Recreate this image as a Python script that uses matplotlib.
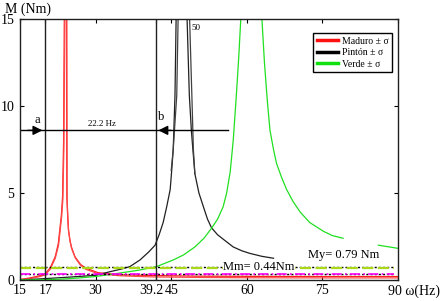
import matplotlib
matplotlib.use("Agg")
import matplotlib.pyplot as plt
import matplotlib.transforms as mtrans
from matplotlib.lines import Line2D

plt.rcParams['font.family'] = ['Liberation Serif', 'DejaVu Serif']

# --- data ---
red_a_hz = [15, 17, 19, 20, 21, 22, 22.6, 22.9, 23.2, 23.45, 23.65, 23.8, 24.0, 24.2, 24.3, 24.45, 24.6, 24.9, 25.2, 25.9, 27, 28, 30.5, 35, 41, 50, 60, 75, 90]
red_a_m  = [0.03, 0.12, 0.25, 0.36, 0.7, 1.35, 2.1, 2.9, 3.7, 4.8, 8.0, 15.5, 22, 15.5, 4.8, 3.7, 2.9, 2.3, 1.9, 1.34, 0.9, 0.69, 0.42, 0.3, 0.26, 0.22, 0.21, 0.2, 0.2]
red_b_hz = [15, 17, 19, 20, 21, 22, 22.65, 22.95, 23.25, 23.5, 23.7, 23.9, 24.1, 24.3, 24.35, 24.5, 24.65, 24.95, 25.25, 26, 27, 28, 30.5, 35, 41, 50, 60, 75, 90]
red_b_m  = [0.01, 0.08, 0.2, 0.3, 0.62, 1.25, 2.0, 2.8, 3.6, 4.6, 7.5, 15.5, 22, 15.5, 4.6, 3.6, 2.8, 2.2, 1.8, 1.25, 0.85, 0.62, 0.36, 0.24, 0.18, 0.15, 0.13, 0.12, 0.12]

blk_a_hz = [15, 20, 25, 30, 32.9, 35, 36.8, 38.8, 40.5, 41.8, 42.6, 43.4, 44.1, 44.8, 45.1, 45.4, 45.75, 46.0, 47.0, 48.1, 48.6, 49.0, 49.3, 49.7, 50.5, 51.4, 52.2, 53.0, 54.2, 55.3, 57.3, 59.0, 60.6, 63.0, 65.3]
blk_a_m  = [0.0, 0.08, 0.17, 0.27, 0.48, 0.62, 0.77, 1.15, 1.6, 2.0, 2.6, 3.3, 4.2, 5.2, 6.3, 7.5, 10.6, 15.5, 25, 15.5, 10.6, 8.6, 7.5, 6.1, 5.0, 4.2, 3.5, 3.0, 2.6, 2.35, 1.9, 1.68, 1.53, 1.36, 1.25]
blk_b_hz = [45.0, 45.4, 46.1, 46.4, 47.5, 48.6, 49.1, 49.4, 49.7]
blk_b_m  = [6.3, 7.5, 10.6, 15.5, 25, 15.5, 10.6, 7.5, 6.1]

grn_a_hz = [15, 20, 23.9, 27.2, 30, 34.8, 38.5, 42.1, 45.4, 47.5, 49.7, 51.5, 53.0, 54.2, 55.3, 56.0, 56.7, 57.3, 57.9, 58.4, 58.9, 61.0, 62.9, 63.5, 64.1, 64.6, 65.3, 65.9, 66.9, 67.9, 69.2, 70.6, 72.5, 75.2, 77.0, 79.1]
grn_a_m  = [0.0, 0.02, 0.06, 0.13, 0.2, 0.4, 0.56, 0.77, 1.15, 1.45, 1.9, 2.4, 2.97, 3.5, 4.2, 5.0, 6.2, 8.0, 10.5, 12.8, 15.5, 25, 15.5, 12.5, 10.2, 8.6, 7.5, 6.7, 5.9, 5.2, 4.5, 3.9, 3.3, 2.8, 2.55, 2.4]
grn_b_hz = [86.1, 90]
grn_b_m  = [2.0, 1.82]

my_level = 0.72
mm_level = 0.37
arrow_level = 8.6
arrow_end = 56.3
line_a = 20.0
line_b = 41.9

tick_pos = [15, 20, 30, 41.9, 45, 60, 75, 90]
tick_lab = ["15", "17", "30", "39.2", "45", "60", "75", ""]
ytick_pos = [0, 5, 10, 15]

fig = plt.figure(figsize=(4.4, 3.01), dpi=100)
ax = fig.add_axes([20/440, 21/301, 378/440, 261/301])

ax.plot(red_a_hz, red_a_m, color='#ff2020', lw=0.9)
ax.plot(red_b_hz, red_b_m, color='#ff4848', lw=0.9)
ax.plot(blk_a_hz, blk_a_m, color='#202020', lw=0.9)
ax.plot(blk_b_hz, blk_b_m, color='#404040', lw=0.9)
ax.plot(grn_a_hz, grn_a_m, color='#20e020', lw=0.9)
ax.plot(grn_b_hz, grn_b_m, color='#20e020', lw=0.9)

# reference levels
ax.plot([15, 89.3], [my_level, my_level], color='black', lw=1.0, ls=(0, (1.5, 1.5)))
ax.plot([15, 89.3], [my_level - 0.04, my_level - 0.04], color='#a8d818', lw=1.6, ls=(0, (5, 2)))
ax.plot([15, 89.3], [mm_level, mm_level], color='black', lw=1.0, ls=(0, (1.5, 1.5)))
ax.plot([15, 89.3], [mm_level - 0.04, mm_level - 0.04], color='#ff00ff', lw=1.2, ls=(0, (6, 2, 1, 2)))

# vertical markers
ax.axvline(line_a, color='#202020', lw=1.0)
ax.axvline(line_b, color='#202020', lw=1.0)

# arrow line
ax.plot([15, arrow_end], [arrow_level, arrow_level], color='black', lw=1.0)
ax.annotate('', xy=(line_a, arrow_level), xytext=(16.0, arrow_level),
            arrowprops=dict(arrowstyle='-|>', color='black', lw=1.0, mutation_scale=14))
ax.annotate('', xy=(line_b, arrow_level), xytext=(45.5, arrow_level),
            arrowprops=dict(arrowstyle='-|>', color='black', lw=1.0, mutation_scale=14))

ax.text(18.4, 9.2, 'a', fontsize=9, ha='center', va='center')
ax.text(43.1, 9.35, 'b', fontsize=9, ha='center', va='center')
ax.text(31.3, 8.95, '22.2 Hz', fontsize=6.5, ha='center', va='center')
ax.text(49.9, 14.5, '50', fontsize=6.5, ha='center', va='center')
ax.text(79.3, 1.45, 'My= 0.79 Nm', fontsize=9, ha='center', va='center')
ax.text(62.4, 0.75, 'Mm= 0.44Nm', fontsize=9, ha='center', va='center',
        bbox=dict(facecolor='white', edgecolor='none', pad=0.3))

ax.set_xlim(15, 90)
ax.set_ylim(0, 15)
ax.set_xticks(tick_pos)
ax.set_xticklabels(tick_lab)
ax.set_yticks(ytick_pos)
ax.tick_params(direction='in', top=True, right=True, length=3, width=0.8,
               labelsize=10)
ax.tick_params(axis='x', pad=3)
ax.tick_params(axis='y', pad=4)
for s in ax.spines.values():
    s.set_linewidth(1.0)
    s.set_color('#202020')

# nudge the crowded "39.2" label slightly to the left
lab = ax.get_xticklabels()[3]
lab.set_transform(lab.get_transform() + mtrans.ScaledTranslation(-4/100, 0, fig.dpi_scale_trans))

fig.text(388/440, 1 - 291/301, '90 ω(Hz)', fontsize=10, ha='left', va='center')
fig.text(5/440, 1 - 9/301, 'M (Nm)', fontsize=10, ha='left', va='center')

handles = [Line2D([], [], color='#ff1010', lw=2.5),
           Line2D([], [], color='black', lw=2.5),
           Line2D([], [], color='#10e010', lw=2.5)]
leg = ax.legend(handles, ['Maduro ± σ', 'Pintón ± σ', 'Verde ± σ'],
                loc='upper right', bbox_to_anchor=(0.985, 0.945), fontsize=7,
                frameon=True, fancybox=False, edgecolor='black', framealpha=1,
                handlelength=2.2, handletextpad=0.4, borderpad=0.35,
                labelspacing=0.25, borderaxespad=0)
leg.get_frame().set_linewidth(1.0)

fig.savefig('out.png', dpi=100)
